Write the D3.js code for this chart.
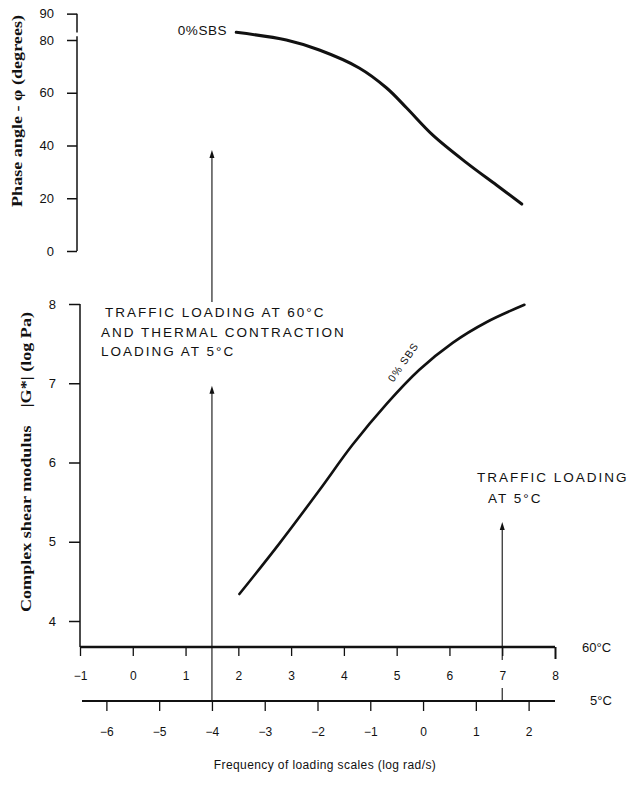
<!DOCTYPE html>
<html>
<head>
<meta charset="utf-8">
<script src="https://cdn.jsdelivr.net/npm/d3@7"></script>
<style>
  html, body { margin: 0; padding: 0; background: #fff; }
  svg { display: block; }
  text { fill: #111; }
</style>
</head>
<body>
<svg id="chart" width="635" height="785"></svg>
<script>
// ---- data ----
const phaseFreq = [1.96, 2.91, 3.535, 4.29, 4.81, 5.19, 5.68, 6.32, 6.89, 7.37];
const phaseDeg  = [82.9, 80.0, 76.2, 69.4, 61.8, 54.2, 44.0, 33.5, 25.0, 17.8];
const modFreq   = [2.02, 2.78, 3.535, 4.16, 4.81, 5.43, 6.06, 6.70, 7.42];
const modLogG   = [4.34, 4.98, 5.65, 6.22, 6.74, 7.17, 7.51, 7.77, 7.99];
const phaseTicks = [0, 20, 40, 60, 80, 90];
const modTicks   = [4, 5, 6, 7, 8];
const freq60Ticks = [-1, 0, 1, 2, 3, 4, 5, 6, 7, 8];
const freq5Ticks  = [-6, -5, -4, -3, -2, -1, 0, 1, 2];
const seriesLabel = "0%SBS";
const leftNote = ["TRAFFIC LOADING AT 60°C", "AND THERMAL CONTRACTION", "LOADING AT 5°C"];
const rightNote = ["TRAFFIC LOADING", "AT 5°C"];
const arrowFreq60 = [1.5, 7];   // loading frequencies on the 60 °C scale

const svg = d3.select("#chart");
const ink = "#111";

// ---- scales ----
const x60 = d3.scaleLinear().domain([-1, 8]).range([80, 555]);
const x5  = d3.scaleLinear().domain([-6.5, 2.5]).range([80, 555]);
const yPhase = d3.scaleLinear().domain([0, 80]).range([251, 40]);
const yG = d3.scaleLinear().domain([4, 8]).range([621, 304]);

const topAxisX = 77, botAxisX = 80;
const y60 = 647, y5 = 701;

// ---- top panel: phase angle axis ----
const phaseAxis = d3.axisLeft(yPhase).tickValues(phaseTicks).tickSize(10).tickSizeOuter(0).tickPadding(13)
  .tickFormat(d3.format("d"));
const gTop = svg.append("g").attr("transform", `translate(${topAxisX},0)`).call(phaseAxis);
gTop.select(".domain").remove();
gTop.selectAll(".tick line").attr("stroke", ink).attr("stroke-width", 1.5);
gTop.selectAll(".tick text").attr("font-family", "Liberation Sans, Arial, sans-serif").attr("font-size", 13).attr("fill", ink);
gTop.append("line").attr("x1", 0).attr("x2", 0).attr("y1", yPhase(90)).attr("y2", yPhase(82.8))
  .attr("stroke", ink).attr("stroke-width", 1.5);
gTop.append("line").attr("x1", 0).attr("x2", 0).attr("y1", yPhase(81.4)).attr("y2", yPhase(0))
  .attr("stroke", ink).attr("stroke-width", 1.5);

// ---- bottom panel: modulus axis ----
const modAxis = d3.axisLeft(yG).tickValues(modTicks).tickSize(11).tickSizeOuter(0).tickPadding(13)
  .tickFormat(d3.format("d"));
const gBot = svg.append("g").attr("transform", `translate(${botAxisX},0)`).call(modAxis);
gBot.select(".domain").remove();
gBot.selectAll(".tick line").attr("stroke", ink).attr("stroke-width", 1.5);
gBot.selectAll(".tick text").attr("font-family", "Liberation Sans, Arial, sans-serif").attr("font-size", 13).attr("fill", ink);
gBot.append("line").attr("x1", 0).attr("x2", 0).attr("y1", yG(8)).attr("y2", y60)
  .attr("stroke", ink).attr("stroke-width", 1.5);

// ---- frequency axes ----
const ax60 = d3.axisBottom(x60).tickValues(freq60Ticks).tickSize(9).tickSizeOuter(0).tickPadding(15)
  .tickFormat(d3.format("d"));
const g60 = svg.append("g").attr("transform", `translate(0,${y60})`).call(ax60);
g60.select(".domain").remove();
g60.append("line").attr("x1", x60(-1)).attr("x2", x60(8)).attr("y1", 0).attr("y2", 0)
  .attr("stroke", ink).attr("stroke-width", 2.6);
g60.selectAll(".tick line").attr("stroke", ink).attr("stroke-width", 1.3);
g60.selectAll(".tick text").attr("font-family", "Liberation Sans, Arial, sans-serif").attr("font-size", 12).attr("fill", ink);
g60.select(".tick:last-of-type line").attr("stroke-width", 2).attr("y2", 12);

const ax5 = d3.axisBottom(x5).tickValues(freq5Ticks).tickSize(10).tickSizeOuter(0).tickPadding(16)
  .tickFormat(d3.format("d"));
const g5 = svg.append("g").attr("transform", `translate(0,${y5})`).call(ax5);
g5.select(".domain").remove();
g5.append("line").attr("x1", x5(-6.5) + 2).attr("x2", x5(2.5)).attr("y1", 0).attr("y2", 0)
  .attr("stroke", ink).attr("stroke-width", 2.2);
g5.selectAll(".tick line").attr("stroke", ink).attr("stroke-width", 1.3);
g5.selectAll(".tick text").attr("font-family", "Liberation Sans, Arial, sans-serif").attr("font-size", 12).attr("fill", ink);

svg.append("text").attr("x", 582).attr("y", y60 + 5).attr("font-family", "Liberation Sans, Arial, sans-serif")
  .attr("font-size", 13).text("60°C");
svg.append("text").attr("x", 590).attr("y", y5 + 4).attr("font-family", "Liberation Sans, Arial, sans-serif")
  .attr("font-size", 13).text("5°C");

// ---- curves ----
const phaseData = phaseFreq.map((f, i) => [f, phaseDeg[i]]);
const modData = modFreq.map((f, i) => [f, modLogG[i]]);
const linePhase = d3.line().x(d => x60(d[0])).y(d => yPhase(d[1])).curve(d3.curveCatmullRom.alpha(0.5));
const lineMod = d3.line().x(d => x60(d[0])).y(d => yG(d[1])).curve(d3.curveCatmullRom.alpha(0.5));
svg.append("path").datum(phaseData).attr("d", linePhase).attr("fill", "none")
  .attr("stroke", ink).attr("stroke-width", 3).attr("stroke-linecap", "round");
svg.append("path").datum(modData).attr("d", lineMod).attr("fill", "none")
  .attr("stroke", ink).attr("stroke-width", 2.6).attr("stroke-linecap", "round");

// series labels
svg.append("text").attr("x", x60(phaseFreq[0]) - 9).attr("y", yPhase(phaseDeg[0]) + 3)
  .attr("text-anchor", "end").attr("font-family", "Liberation Sans, Arial, sans-serif")
  .attr("font-size", 13.5).attr("letter-spacing", 0.6).text(seriesLabel);
svg.append("text")
  .attr("transform", `translate(${x60(5.18)},${yG(7.0) - 19}) rotate(-55)`)
  .attr("text-anchor", "middle").attr("font-family", "Liberation Sans, Arial, sans-serif")
  .attr("font-size", 10.5).attr("letter-spacing", 1).text("0% SBS");

// ---- arrows ----
function arrow(x, yFrom, yTo) {
  svg.append("line").attr("x1", x).attr("x2", x).attr("y1", yFrom).attr("y2", yTo + 6)
    .attr("stroke", ink).attr("stroke-width", 1.1);
  svg.append("path").attr("d", `M${x - 2.5},${yTo + 8} L${x},${yTo} L${x + 2.5},${yTo + 8} Z`).attr("fill", ink);
}
const xa = x60(arrowFreq60[0]);
const xb = x60(arrowFreq60[1]);
arrow(xa, y5, yG(6.97));
arrow(xa, 302, yPhase(38.3));
arrow(xb, 660, yG(5.25));
svg.append("line").attr("x1", xb).attr("x2", xb).attr("y1", 688).attr("y2", y5)
  .attr("stroke", ink).attr("stroke-width", 1.1);

// ---- annotation notes ----
const noteFont = "Liberation Sans, Arial, sans-serif";
const leftX = [105, 101, 101], leftY = [317, 337, 356];
leftNote.forEach((t, i) => {
  svg.append("text").attr("x", leftX[i]).attr("y", leftY[i]).attr("font-family", noteFont)
    .attr("font-size", 13.5).attr("letter-spacing", 2).text(t);
});
svg.append("text").attr("x", 477).attr("y", 482).attr("font-family", noteFont)
  .attr("font-size", 13.5).attr("letter-spacing", 2).text(rightNote[0]);
svg.append("text").attr("x", 488).attr("y", 503).attr("font-family", noteFont)
  .attr("font-size", 13.5).attr("letter-spacing", 2).text(rightNote[1]);

// ---- axis titles ----
svg.append("text").attr("transform", "translate(22,111) rotate(-90)").attr("text-anchor", "middle")
  .attr("font-family", "Liberation Serif, Times New Roman, serif").attr("font-weight", "bold")
  .attr("font-size", 14).attr("textLength", 192).attr("lengthAdjust", "spacingAndGlyphs")
  .text("Phase angle - φ (degrees)");
svg.append("text").attr("transform", "translate(31,462) rotate(-90)").attr("text-anchor", "middle")
  .attr("font-family", "Liberation Serif, Times New Roman, serif").attr("font-weight", "bold")
  .attr("font-size", 14).attr("textLength", 300).attr("lengthAdjust", "spacingAndGlyphs")
  .attr("xml:space", "preserve")
  .text("Complex shear modulus    |G*| (log Pa)");
svg.append("text").attr("x", 325).attr("y", 769).attr("text-anchor", "middle")
  .attr("font-family", noteFont).attr("font-size", 12).attr("letter-spacing", 0.4)
  .text("Frequency of loading scales (log rad/s)");
</script>
</body>
</html>
